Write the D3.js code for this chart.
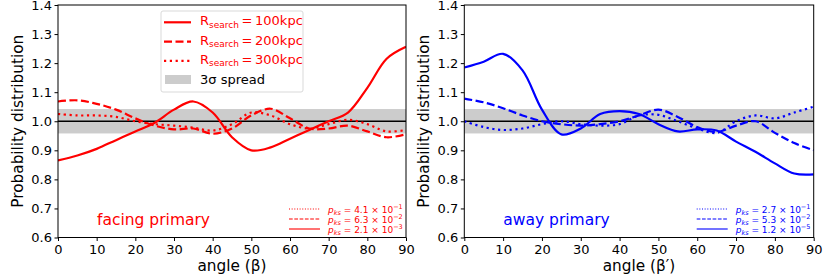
<!DOCTYPE html>
<html><head><meta charset="utf-8">
<script src="https://cdn.jsdelivr.net/npm/d3@7"></script>
<style>body{margin:0;background:#fff}svg{display:block;font-family:"DejaVu Sans",sans-serif}</style>
</head><body><svg id="c" width="830" height="277"></svg>
<script>
const angles = [0,5,10,15,20,25,30,35,40,45,50,55,60,65,70,75,80,85,90];
// facing primary (left)
const facing100 = [0.865,0.882,0.905,0.935,0.965,0.995,1.040,1.068,1.030,0.945,0.900,0.910,0.940,0.970,1.000,1.030,1.115,1.215,1.256];
const facing200 = [1.068,1.072,1.060,1.040,1.010,0.985,0.972,0.975,0.957,0.975,1.020,1.043,1.010,0.975,0.975,0.985,0.965,0.945,0.955];
const facing300 = [1.025,1.020,1.020,1.015,1.000,0.990,0.985,0.978,0.968,0.990,1.030,1.020,0.990,0.975,0.990,1.005,0.990,0.965,0.970];
// away primary (right)
const away100 = [1.185,1.205,1.232,1.175,1.040,0.955,0.975,1.025,1.035,1.025,0.990,0.965,0.972,0.968,0.930,0.895,0.855,0.820,0.817];
const away200 = [1.078,1.065,1.045,1.020,1.000,0.990,0.985,0.990,1.000,1.020,1.040,1.015,0.980,0.963,0.985,1.000,0.960,0.925,0.900];
const away300 = [1.000,0.980,0.970,0.975,0.990,1.000,0.990,0.985,0.990,1.020,1.022,1.000,0.975,0.960,1.000,1.020,1.010,1.030,1.050];
const spreadLow = 0.958, spreadHigh = 1.042;
const xTicks = [0,10,20,30,40,50,60,70,80,90];
const yTicks = [0.6,0.7,0.8,0.9,1.0,1.1,1.2,1.3,1.4];
const legendLabels = ["100kpc","200kpc","300kpc"];
const pksFacing = [["4.1","−1"],["6.3","−2"],["2.1","−3"]];
const pksAway = [["2.7","−1"],["5.3","−2"],["1.2","−5"]];

const svg = d3.select("#c");
const styles = [{w:2.2,d:null},{w:2.2,d:"8,3.5"},{w:2.2,d:"2.2,3.6"}];

function panel(x0,x1,series,color,xlab,label,pks,showLegend){
  const x = d3.scaleLinear().domain([0,90]).range([x0,x1]);
  const y = d3.scaleLinear().domain([0.6,1.4]).range([237.5,5]);
  const g = svg.append("g");
  g.append("rect").attr("x",x(0)).attr("y",y(spreadHigh)).attr("width",x(90)-x(0)).attr("height",y(spreadLow)-y(spreadHigh)).attr("fill","#cccccc");
  g.append("line").attr("x1",x(0)).attr("x2",x(90)).attr("y1",y(1)).attr("y2",y(1)).attr("stroke","#000").attr("stroke-width",1.3);
  const line = d3.line().x((d,i)=>x(angles[i])).y(d=>y(d)).curve(d3.curveCatmullRom.alpha(0.5));
  const cp = "cp"+Math.round(x0);
  svg.append("clipPath").attr("id",cp).append("rect").attr("x",x(0)).attr("y",y(1.4)).attr("width",x(90)-x(0)).attr("height",y(0.6)-y(1.4));
  [2,1,0].forEach(k=>{
    g.append("path").attr("d",line(series[k])).attr("fill","none").attr("stroke",color)
      .attr("stroke-width",styles[k].w).attr("stroke-dasharray",styles[k].d).attr("clip-path","url(#"+cp+")");
  });
  // axes
  const xa = g.append("g").attr("transform",`translate(0,${y(0.6)})`).call(d3.axisBottom(x).tickValues(xTicks).tickSize(3.5).tickPadding(3.5));
  const ya = g.append("g").attr("transform",`translate(${x(0)},0)`).call(d3.axisLeft(y).tickValues(yTicks).tickFormat(d3.format(".1f")).tickSize(3.5).tickPadding(2.5));
  [xa,ya].forEach(a=>{a.select(".domain").remove();a.selectAll("text").attr("font-size",13).attr("font-family","DejaVu Sans").attr("fill","#000");a.selectAll("line").attr("stroke","#000");});
  g.append("rect").attr("x",x(0)).attr("y",y(1.4)).attr("width",x(90)-x(0)).attr("height",y(0.6)-y(1.4)).attr("fill","none").attr("stroke","#000").attr("stroke-width",1);
  g.append("text").attr("x",(x0+x1)/2).attr("y",271).attr("text-anchor","middle").attr("font-size",15.3).text(xlab);
  g.append("text").attr("transform",`translate(${x0-35},${(y(0.6)+y(1.4))/2}) rotate(-90)`).attr("text-anchor","middle").attr("font-size",15.3).text("Probability distribution");
  g.append("text").attr("x",x(0)+39).attr("y",225).attr("font-size",15.5).attr("fill",color).text(label);
  // pks legend
  const order = [2,1,0];
  order.forEach((k,i)=>{
    const yy = 209+i*10;
    g.append("line").attr("x1",x1-117).attr("x2",x1-86).attr("y1",yy).attr("y2",yy).attr("stroke",color).attr("stroke-width",1.1)
     .attr("stroke-dasharray",k==0?null:(k==1?"3.7,1.6":"1,1.65"));
    const t = g.append("text").attr("x",x1-78).attr("y",yy+3.5).attr("font-size",9).attr("fill",color);
    t.append("tspan").attr("font-style","italic").text("p");
    t.append("tspan").attr("font-style","italic").attr("font-size",6.5).attr("dy",2).text("ks");
    t.append("tspan").attr("dy",-2).text(` = ${pks[i][0]} × 10`);
    t.append("tspan").attr("font-size",6.5).attr("dy",-3.5).text(pks[i][1]);
  });
  if(showLegend){
    const lg = g.append("g");
    lg.append("rect").attr("x",161).attr("y",11).attr("width",142).attr("height",81).attr("rx",2).attr("fill","#fff").attr("fill-opacity",0.8).attr("stroke","#d9d9d9");
    [0,1,2].forEach(k=>{
      const yy = 22.3+k*19.3;
      lg.append("line").attr("x1",164).attr("x2",191).attr("y1",yy).attr("y2",yy).attr("stroke",color).attr("stroke-width",styles[k].w).attr("stroke-dasharray",styles[k].d);
      const t = lg.append("text").attr("x",200).attr("y",yy+3).attr("font-size",13).attr("fill",color);
      t.append("tspan").text("R");
      t.append("tspan").attr("font-size",9).attr("dy",2.5).text("search");
      t.append("tspan").attr("dy",-2.5).text("\u2009=\u2009"+legendLabels[k]);
    });
    lg.append("rect").attr("x",165).attr("y",75).attr("width",26).attr("height",9).attr("fill","#cccccc");
    lg.append("text").attr("x",200).attr("y",84).attr("font-size",13).attr("fill","#000").text("3σ spread");
  }
}
panel(58,406,[facing100,facing200,facing300],"#ff0000","angle (β)","facing primary",pksFacing,true);
panel(464.3,813.7,[away100,away200,away300],"#0000ff","angle (β′)","away primary",pksAway,false);
</script></body></html>
